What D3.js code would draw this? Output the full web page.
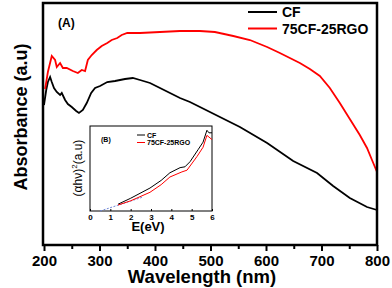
<!DOCTYPE html>
<html><head><meta charset="utf-8">
<script src="https://cdn.jsdelivr.net/npm/d3@7"></script>
<style>body{margin:0;background:#fff}svg{display:block}text{font-family:"Liberation Sans",Arial,sans-serif}</style>
</head><body>
<svg id="c" width="392" height="288"></svg>
<script>
// Main chart data (wavelength nm, absorbance a.u.)
const cfWave = [200,204,207,211,214,218,223,229,232,238,243,250,258,263,270,277,285,292,301,314,328,346,360,373,391,409,427,445,463,481,517,553,602,649,692,721,751,782,800];
const cfAbs  = [1.40,1.55,1.63,1.68,1.63,1.57,1.53,1.50,1.52,1.45,1.41,1.38,1.34,1.32,1.35,1.42,1.52,1.57,1.59,1.63,1.64,1.66,1.67,1.65,1.62,1.57,1.52,1.47,1.43,1.38,1.28,1.18,1.02,0.84,0.72,0.59,0.47,0.38,0.35];
const rgoWave = [202,207,214,220,223,229,234,241,252,261,268,274,279,286,295,304,314,322,332,340,350,373,409,445,481,508,541,571,602,625,643,661,679,697,715,733,751,769,782,791,800];
const rgoAbs  = [1.56,1.73,1.89,1.85,1.78,1.82,1.77,1.77,1.74,1.72,1.75,1.74,1.85,1.90,1.95,1.99,2.02,2.05,2.07,2.10,2.12,2.12,2.13,2.14,2.14,2.13,2.09,2.05,1.98,1.92,1.87,1.82,1.76,1.69,1.57,1.42,1.26,1.10,0.97,0.85,0.73];
const xTicks = [200,300,400,500,600,700,800];
const xMinorTicks = [250,350,450,550,650,750];
const seriesNames = ["CF","75CF-25RGO"];
const seriesColors = ["#000000","#ff0000"];

// Inset data (E eV, (αhν)^2 a.u.)
const insCfE   = [1.38,2.0,2.95,3.5,3.93,4.43,4.67,4.92,5.31,5.56,5.75,5.85,6.0];
const insCfV   = [0.08,0.15,0.27,0.36,0.45,0.51,0.52,0.58,0.72,0.81,0.95,0.92,0.92];
const insRgoE  = [1.38,2.0,2.95,3.5,3.93,4.52,4.77,5.26,5.56,5.75,6.0];
const insRgoV  = [0.07,0.12,0.22,0.31,0.40,0.46,0.48,0.64,0.75,0.89,0.84];
const fitE = [0.5,2.55];
const fitV = [0.0,0.16];
const insTicks = [0,1,2,3,4,5,6];

const svg = d3.select("#c");
const W0=43, W1=377, H0=3, H1=245;
const x = d3.scaleLinear().domain([200,800]).range([W0+1,W1]);
const y = d3.scaleLinear().domain([0,2.42]).range([H1,H0]);

const line = d3.line().x(d=>x(d[0])).y(d=>y(d[1])).curve(d3.curveLinear);
svg.append("path").datum(cfWave.map((w,i)=>[w,cfAbs[i]]))
  .attr("d",line).attr("fill","none").attr("stroke",seriesColors[0]).attr("stroke-width",1.8);
svg.append("path").datum(rgoWave.map((w,i)=>[w,rgoAbs[i]]))
  .attr("d",line).attr("fill","none").attr("stroke",seriesColors[1]).attr("stroke-width",1.8);

// frame
svg.append("rect").attr("x",W0).attr("y",H0).attr("width",W1-W0).attr("height",H1-H0)
  .attr("fill","none").attr("stroke","#000").attr("stroke-width",2.5);

// x axis ticks
const gx = svg.append("g").attr("transform",`translate(0,${H1})`);
gx.call(d3.axisBottom(x).tickValues(xTicks).tickSize(6).tickPadding(4).tickFormat(d3.format("d")));
gx.select(".domain").remove();
gx.selectAll("line").attr("stroke-width",2);
gx.selectAll("text").attr("font-size",15).attr("font-weight","bold").attr("font-family","Liberation Sans, Arial, sans-serif").attr("fill","#000");
const gm = svg.append("g").attr("transform",`translate(0,${H1})`);
gm.call(d3.axisBottom(x).tickValues(xMinorTicks).tickSize(4).tickFormat(""));
gm.select(".domain").remove();
gm.selectAll("line").attr("stroke-width",2);

svg.append("text").attr("x",202).attr("y",283).attr("text-anchor","middle")
  .attr("font-size",18.5).attr("font-weight","bold").text("Wavelength (nm)");
svg.append("text").attr("transform","translate(27,117) rotate(-90)").attr("text-anchor","middle")
  .attr("font-size",18).attr("font-weight","bold").text("Absorbance (a.u)");
svg.append("text").attr("x",58).attr("y",27).attr("font-size",12).attr("font-weight","bold").text("(A)");

// legend
const leg = svg.append("g");
seriesNames.forEach((n,i)=>{
  const yy = 12 + i*16.5;
  leg.append("line").attr("x1",248).attr("x2",277).attr("y1",yy).attr("y2",yy)
    .attr("stroke",seriesColors[i]).attr("stroke-width",2);
  leg.append("text").attr("x",282).attr("y",yy+5).attr("font-size",14).attr("font-weight","bold").text(n);
});

// inset
const I0=90, I1=212, J0=126, J1=211;
const xi = d3.scaleLinear().domain([0,6]).range([I0,I1]);
const yi = d3.scaleLinear().domain([0,1]).range([J1,J0]);
svg.append("rect").attr("x",I0).attr("y",J0).attr("width",I1-I0).attr("height",J1-J0)
  .attr("fill","#fff").attr("stroke","#000").attr("stroke-width",1);
const li = d3.line().x(d=>xi(d[0])).y(d=>yi(d[1]));
svg.append("path").datum(fitE.map((e,i)=>[e,fitV[i]])).attr("d",li)
  .attr("fill","none").attr("stroke","#6f86d6").attr("stroke-width",1).attr("stroke-dasharray","2,1.5");
svg.append("path").datum(insCfE.map((e,i)=>[e,insCfV[i]])).attr("d",li)
  .attr("fill","none").attr("stroke","#000").attr("stroke-width",1);
svg.append("path").datum(insRgoE.map((e,i)=>[e,insRgoV[i]])).attr("d",li)
  .attr("fill","none").attr("stroke","#ff0000").attr("stroke-width",1);
const gi = svg.append("g").attr("transform",`translate(0,${J1})`);
gi.call(d3.axisBottom(xi).tickValues(insTicks).tickSize(-2).tickPadding(3).tickFormat(d3.format("d")));
gi.select(".domain").remove();
gi.selectAll("text").attr("font-size",8).attr("font-weight","bold").attr("font-family","Liberation Sans, Arial, sans-serif").attr("fill","#000");
svg.append("text").attr("x",148).attr("y",231).attr("text-anchor","middle")
  .attr("font-size",13).attr("font-weight","bold").text("E(eV)");
const yl = svg.append("text").attr("transform","translate(82,168) rotate(-90)").attr("text-anchor","middle")
  .attr("font-size",12);
yl.append("tspan").text("(αhν)");
yl.append("tspan").attr("font-size",8).attr("dy",-5).text("2");
yl.append("tspan").attr("dy",5).text("(a.u)");
svg.append("text").attr("x",101).attr("y",142).attr("font-size",7).attr("font-weight","bold").text("(B)");
seriesNames.forEach((n,i)=>{
  const yy = 135 + i*7.5;
  svg.append("line").attr("x1",137).attr("x2",145).attr("y1",yy).attr("y2",yy)
    .attr("stroke",seriesColors[i]).attr("stroke-width",1);
  svg.append("text").attr("x",147).attr("y",yy+2.5).attr("font-size",7).attr("font-weight","bold").text(n);
});
</script>
</body></html>
